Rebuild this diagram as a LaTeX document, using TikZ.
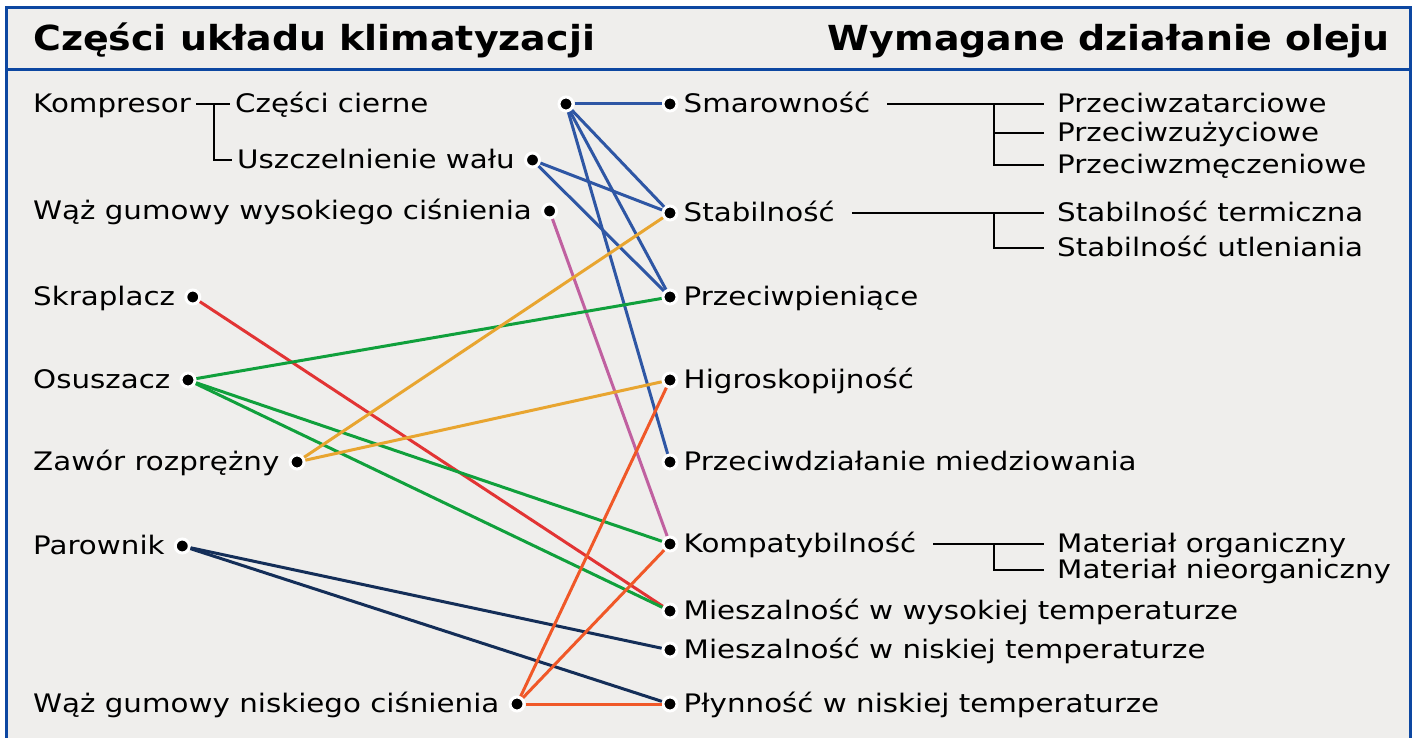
\documentclass[tikz,border=0pt]{standalone}
\usepackage{fontspec}
\setmainfont{DejaVu Sans}[FakeStretch=1.15]
\newfontfamily\headfont{DejaVu Sans}[FakeStretch=1.1]
\usetikzlibrary{positioning}

\definecolor{framecol}{RGB}{13,71,161}
\definecolor{paper}{RGB}{239,238,236}
\definecolor{linkblue}{RGB}{46,86,164}
\definecolor{linkpink}{RGB}{192,96,160}
\definecolor{linkred}{RGB}{226,52,52}
\definecolor{linkgreen}{RGB}{16,160,60}
\definecolor{linkgold}{RGB}{232,165,48}
\definecolor{linknavy}{RGB}{20,46,88}
\definecolor{linkorange}{RGB}{240,88,40}

\begin{document}
\begin{tikzpicture}[
		x=1pt, y=-1pt,
		node distance=4pt,
		itemtext/.style={anchor=west, inner xsep=5pt, inner ysep=0pt, text height=19.5pt, text depth=2.5pt, font=\fontsize{25.5}{30}\selectfont},
		headtext/.style={inner sep=0pt, font=\fontsize{34.5}{40}\headfont\bfseries},
		dotshape/.style={circle, fill=black, draw=white, line width=3pt, minimum size=14pt, inner sep=0pt},
		link/.style={draw=#1, line width=3pt},
		tree/.style={draw=black, line width=2.5pt},
	]
		\clip (0,0) rectangle (1416,738);
		\fill[white] (0,0) rectangle (1416,738);
		\fill[paper] (6,8) rectangle (1410,760);
		\draw[framecol, line width=3pt] (6,8) rectangle (1410,760) (6,70) -- (1410,70);

		\node[headtext, anchor=base west] (lefthead) at (33,51) {Części układu klimatyzacji};
		\node[headtext, anchor=base east] (righthead) at (1390,51) {Wymagane działanie oleju};

		\node[itemtext] (komp) at (28,104) {Kompresor};
		\node[itemtext] (cc) at (230,104) {Części cierne};
		\node[itemtext] (uw) at (232,160) {Uszczelnienie wału};
		\node[itemtext] (wwc) at (28,211) {Wąż gumowy wysokiego ciśnienia};
		\node[itemtext] (skr) at (28,297) {Skraplacz};
		\node[itemtext] (osu) at (28,380) {Osuszacz};
		\node[itemtext] (zaw) at (28,462) {Zawór rozprężny};
		\node[itemtext] (par) at (28,546) {Parownik};
		\node[itemtext] (wnc) at (28,704) {Wąż gumowy niskiego ciśnienia};

		\node[dotshape] (d-cc) at (566,104) {};
		\node[dotshape, right=of uw] (d-uw) {};
		\node[dotshape, right=of wwc] (d-wwc) {};
		\node[dotshape, right=of skr] (d-skr) {};
		\node[dotshape, right=of osu] (d-osu) {};
		\node[dotshape, right=of zaw] (d-zaw) {};
		\node[dotshape, right=of par] (d-par) {};
		\node[dotshape, right=of wnc] (d-wnc) {};

		\node[dotshape] (d-smar) at (670,104) {};
		\node[dotshape] (d-stab) at (670,213) {};
		\node[dotshape] (d-ppie) at (670,297) {};
		\node[dotshape] (d-higr) at (670,380) {};
		\node[dotshape] (d-pmie) at (670,462) {};
		\node[dotshape] (d-kompat) at (670,544) {};
		\node[dotshape] (d-mwys) at (670,611) {};
		\node[dotshape] (d-mnis) at (670,650) {};
		\node[dotshape] (d-plyn) at (670,704) {};

		\node[itemtext, right=0pt of d-smar] (smar) {Smarowność};
		\node[itemtext, right=0pt of d-stab] (stab) {Stabilność};
		\node[itemtext, right=0pt of d-ppie] (ppie) {Przeciwpieniące};
		\node[itemtext, right=0pt of d-higr] (higr) {Higroskopijność};
		\node[itemtext, right=0pt of d-pmie] (pmie) {Przeciwdziałanie miedziowania};
		\node[itemtext, right=0pt of d-kompat] (kompat) {Kompatybilność};
		\node[itemtext, right=0pt of d-mwys] (mwys) {Mieszalność w wysokiej temperaturze};
		\node[itemtext, right=0pt of d-mnis] (mnis) {Mieszalność w niskiej temperaturze};
		\node[itemtext, right=0pt of d-plyn] (plyn) {Płynność w niskiej temperaturze};

		\node[itemtext] (zat) at (1052,104) {Przeciwzatarciowe};
		\node[itemtext] (zuz) at (1052,133) {Przeciwzużyciowe};
		\node[itemtext] (mecz) at (1052,165) {Przeciwzmęczeniowe};
		\node[itemtext] (term) at (1052,213) {Stabilność termiczna};
		\node[itemtext] (utl) at (1052,248) {Stabilność utleniania};
		\node[itemtext] (org) at (1052,544) {Materiał organiczny};
		\node[itemtext] (nieorg) at (1052,570) {Materiał nieorganiczny};

		\coordinate (fork-komp) at (214,104);
		\coordinate (fork-smar) at (994,104);
		\coordinate (fork-stab) at (994,213);
		\coordinate (fork-kompat) at (994,544);

		\draw[tree] (komp.east) -- (cc.west);
		\draw[tree] (fork-komp) |- (uw.west);
		\draw[tree, shorten <=12pt, shorten >=8pt] (smar.east) -- (zat.west);
		\draw[tree, shorten >=8pt] (fork-smar) |- (zuz.west);
		\draw[tree, shorten >=8pt] (fork-smar) |- (mecz.west);
		\draw[tree, shorten <=12pt, shorten >=8pt] (stab.east) -- (term.west);
		\draw[tree, shorten >=8pt] (fork-stab) |- (utl.west);
		\draw[tree, shorten <=12pt, shorten >=8pt] (kompat.east) -- (org.west);
		\draw[tree, shorten >=8pt] (fork-kompat) |- (nieorg.west);

		\draw[link=linkblue] (d-cc) -- (d-smar);
		\draw[link=linkblue] (d-cc) -- (d-stab);
		\draw[link=linkblue] (d-cc) -- (d-ppie);
		\draw[link=linkblue] (d-cc) -- (d-pmie);
		\draw[link=linkblue] (d-uw) -- (d-stab);
		\draw[link=linkblue] (d-uw) -- (d-ppie);
		\draw[link=linkpink] (d-wwc) -- (d-kompat);
		\draw[link=linkred] (d-skr) -- (d-mwys);
		\draw[link=linkgreen] (d-osu) -- (d-ppie);
		\draw[link=linkgreen] (d-osu) -- (d-kompat);
		\draw[link=linkgreen] (d-osu) -- (d-mwys);
		\draw[link=linkgold] (d-zaw) -- (d-stab);
		\draw[link=linkgold] (d-zaw) -- (d-higr);
		\draw[link=linknavy] (d-par) -- (d-mnis);
		\draw[link=linknavy] (d-par) -- (d-plyn);
		\draw[link=linkorange] (d-wnc) -- (d-higr);
		\draw[link=linkorange] (d-wnc) -- (d-kompat);
		\draw[link=linkorange] (d-wnc) -- (d-plyn);
	\end{tikzpicture}
\end{document}
